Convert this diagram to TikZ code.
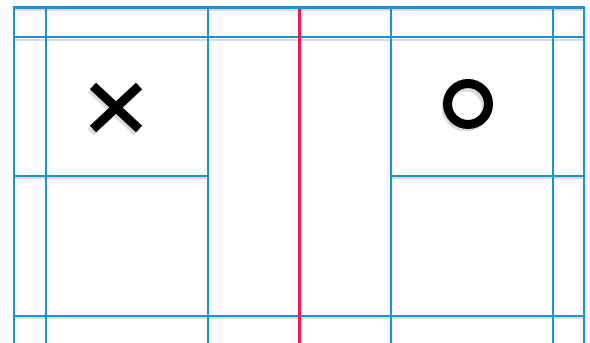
\documentclass[tikz,border=0pt]{standalone}
\definecolor{courtblue}{HTML}{1A92D6}
\definecolor{netred}{HTML}{F01A48}
\definecolor{shade}{HTML}{D9DCDF}
\begin{document}
\begin{tikzpicture}[x=1pt,y=-1pt,
  courtline/.style={draw=courtblue,line width=1.8pt},
  borderline/.style={draw=courtblue,line width=2.6pt},
  shadowline/.style={draw=shade,line width=2pt},
  symbolstroke/.style={draw=black,line width=9pt},
  symbolshadow/.style={draw=shade,line width=9pt}]
\useasboundingbox (0,0) rectangle (590,343);
\fill[white] (0,0) rectangle (590,343);
% shadows of horizontal lines
\draw[shadowline] (14,40) -- (584,40);
\draw[shadowline] (14,318) -- (584,318);
\draw[shadowline] (14,178) -- (208,178);
\draw[shadowline] (391,178) -- (584,178);
\draw[shadowline] (14,10) -- (584,10);
% horizontal lines
\draw[courtline] (14,37) -- (584,37);
\draw[courtline] (14,176) -- (208,176);
\draw[courtline] (391,176) -- (584,176);
\draw[courtline] (14,316) -- (584,316);
% vertical lines
\foreach \x in {46,208,391,553}{\draw[courtline] (\x,7.5) -- (\x,343);}
% outer border
\draw[borderline] (14,343) -- (14,7.5) -- (584,7.5) -- (584,343);
% net
\draw[draw=netred,line width=3.8pt] (299.5,9) -- (299.5,343);
% X mark
\begin{scope}[shift={(-2,3)}]
\draw[symbolshadow] (93,86) -- (139,129) (139,86) -- (93,129);
\end{scope}
\draw[symbolstroke] (93,86) -- (139,129) (139,86) -- (93,129);
% O mark
\draw[symbolshadow] (466,107) circle[radius=20];
\draw[symbolstroke] (468,104) circle[radius=20.5];
\end{tikzpicture}
\end{document}
